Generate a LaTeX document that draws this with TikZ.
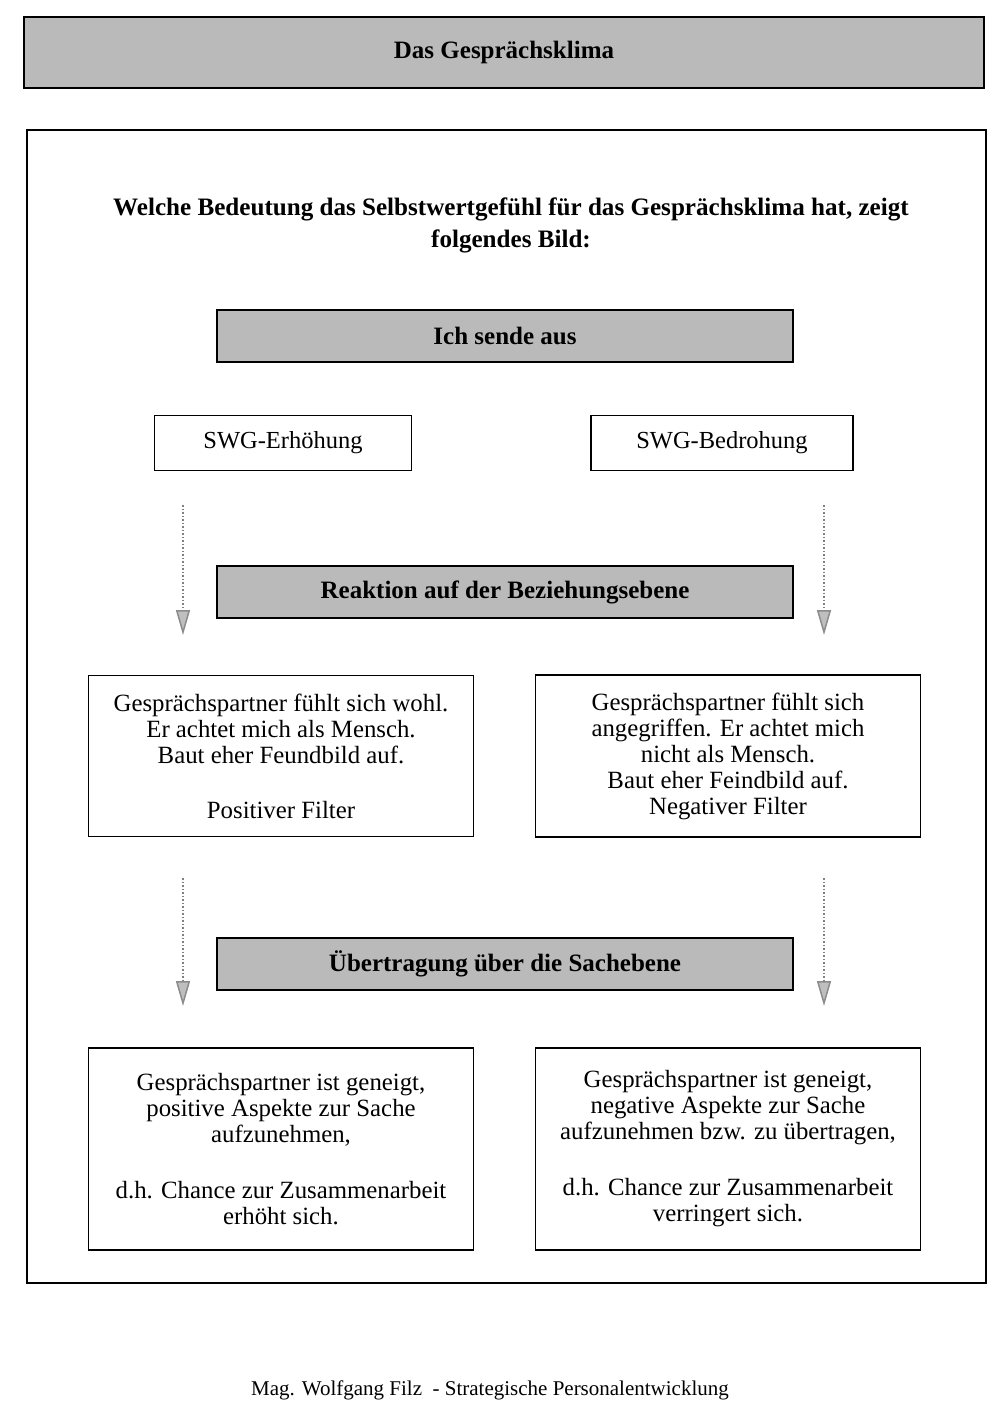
\documentclass[tikz,border=0pt]{standalone}
\usepackage{fontspec}
\setmainfont{Liberation Serif}
\usepackage{tikz}
\usetikzlibrary{positioning, calc}
\usetikzlibrary{arrows.meta}

\begin{document}
\begin{tikzpicture}[x=1pt,y=-1pt,draw=black!100]
	\def \leftcol{283}
	\def \midcol{505}
	\def \rightcol{722}
	\def \rowsend{336}
	\def \rowswg{443}
	\def \rowreak{592}
	\def \rowfilter{756}
	\def \rowsache{964}
	\def \rowende{1149}
	\tikzstyle{g-node}=[draw,line width=2pt,fill=black!27,text centered,inner sep=0pt,minimum width=576pt,minimum height=52pt,font=\fontsize{25}{28}\selectfont\bfseries]
	\tikzstyle{s-node}=[draw,line width=1.6pt,text centered,inner sep=0pt,minimum height=55pt,font=\fontsize{24.5}{26}\selectfont]
	\tikzstyle{t-node}=[draw,line width=1.6pt,align=center,inner sep=0pt,minimum width=385pt,font=\fontsize{24.8}{26}\selectfont]
	\tikzstyle{flow}=[dotted,line width=1.5pt,draw=black!50,-{Triangle[width=14pt,length=25pt,fill=black!25,color=black!45]}]

	\fill[white] (0,0) rectangle (1008,1408);
	\useasboundingbox (0,0) rectangle (1008,1408);

	% title and frame
	\node[g-node,minimum width=960pt,minimum height=71pt] (title) at (504,52.5) {Das Gesprächsklima};
	\node[draw,line width=2pt,minimum width=959pt,minimum height=1153pt] (frame) at (506.5,706.5) {};
	\node[align=center,font=\fontsize{25.1}{32}\selectfont\bfseries] (intro) at (511,225)
		{Welche Bedeutung das Selbstwertgefühl für das Gesprächsklima hat, zeigt\\folgendes Bild:};

	% grey levels
	\node[g-node] (send)	at (\midcol,\rowsend)	{Ich sende aus};
	\node[g-node] (reak)	at (\midcol,\rowreak)	{Reaktion auf der Beziehungsebene};
	\node[g-node] (sache)	at (\midcol,\rowsache)	{Übertragung über die Sachebene};

	% SWG
	\node[s-node,minimum width=257pt] (erh)	at (\leftcol,\rowswg)	{SWG-Erhöhung};
	\node[s-node,minimum width=262pt] (bedr)	at (\rightcol,\rowswg)	{SWG-Bedrohung};

	% filter boxes
	\node[t-node,minimum height=161pt] (pos) at (281,\rowfilter)
		{Gesprächspartner fühlt sich wohl.\\Er achtet mich als Mensch.\\Baut eher Feundbild auf.\\[29pt]Positiver Filter};
	\node[t-node,minimum height=162pt] (neg) at (728,\rowfilter)
		{Gesprächspartner fühlt sich\\angegriffen. Er achtet mich\\nicht als Mensch.\\Baut eher Feindbild auf.\\Negativer Filter};

	% result boxes
	\node[t-node,minimum height=202pt] (posend) at (281,\rowende)
		{Gesprächspartner ist geneigt,\\positive Aspekte zur Sache\\aufzunehmen,\\[30pt]d.h. Chance zur Zusammenarbeit\\erhöht sich.};
	\node[t-node,minimum height=202pt] (negend) at (728,\rowende)
		{Gesprächspartner ist geneigt,\\negative Aspekte zur Sache\\aufzunehmen bzw. zu übertragen,\\[30pt]d.h. Chance zur Zusammenarbeit\\verringert sich.};

	% footer
	\node[font=\fontsize{21}{24}\selectfont] (foot) at (490,1390) {Mag. Wolfgang Filz \ - Strategische Personalentwicklung};

	% arrow ends
	\coordinate (la) at (183,505);
	\coordinate (lb) at (183,635);
	\coordinate (ra) at (824,505);
	\coordinate (rb) at (824,635);
	\coordinate (lc) at (183,878);
	\coordinate (ld) at (183,1006);
	\coordinate (rc) at (824,878);
	\coordinate (rd) at (824,1006);

	\path
		(la)	edge[flow]	(lb)
		(ra)	edge[flow]	(rb)
		(lc)	edge[flow]	(ld)
		(rc)	edge[flow]	(rd);

\end{tikzpicture}
\end{document}
